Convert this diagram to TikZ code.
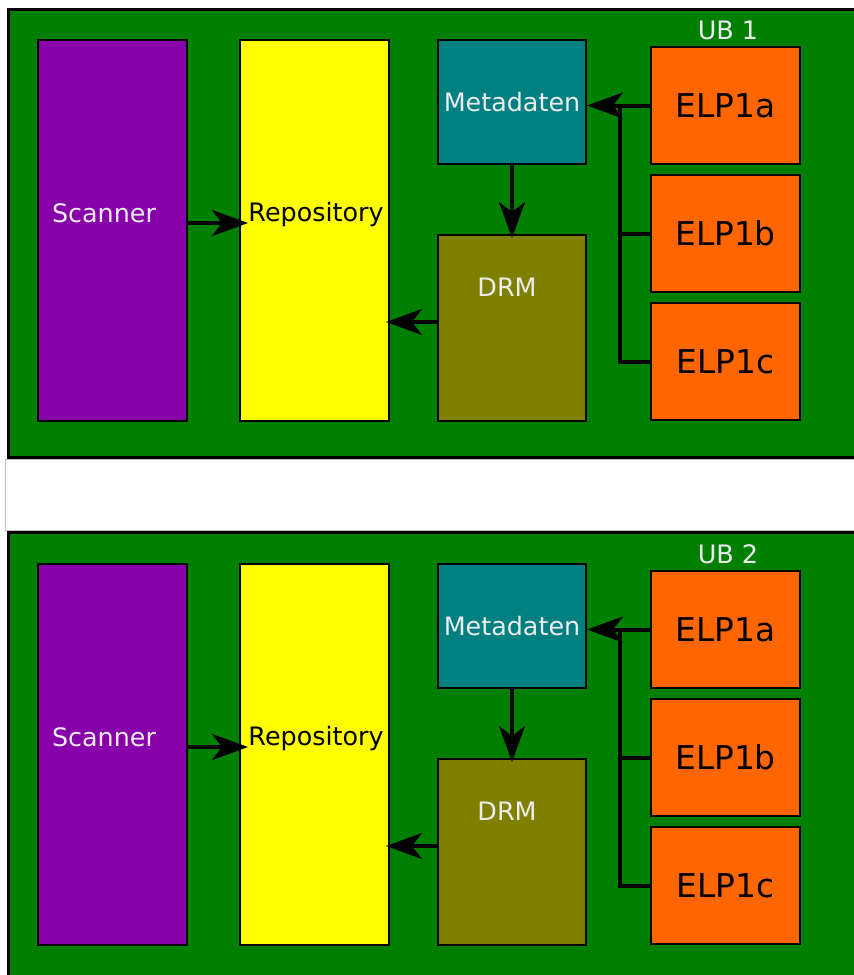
\documentclass[tikz,border=0pt]{standalone}
\usepackage{fontspec}
\setmainfont{DejaVu Sans}
\usetikzlibrary{arrows.meta,calc}

\definecolor{panelgreen}{RGB}{0,128,0}
\definecolor{scanpurple}{RGB}{136,0,170}
\definecolor{repoyellow}{RGB}{255,255,0}
\definecolor{metateal}{RGB}{0,128,128}
\definecolor{drmolive}{RGB}{128,128,0}
\definecolor{elporange}{RGB}{255,102,0}
\definecolor{paletext}{RGB}{236,236,236}

\tikzset{every picture/.style={line width=0.75pt}}
\tikzset{
  panel/.style={draw=black,line width=1.5pt,fill=panelgreen},
  box/.style={draw=black,line width=1pt,inner sep=0pt},
  tall/.style={box,minimum width=74.5pt,minimum height=190.5pt},
  elp/.style={box,fill=elporange,minimum width=74.5pt,minimum height=58.5pt,font=\fontsize{16.4}{20}\selectfont},
  lbl/.style={inner sep=0.75pt,font=\fontsize{12.7}{15}\selectfont},
  conn/.style={line width=2pt},
  arr/.style={conn,-{Stealth[length=18pt,width=13pt,inset=5pt]}}
}

\begin{document}
\begin{tikzpicture}[x=0.5pt,y=0.5pt,yscale=-1,xscale=1]
\useasboundingbox (0,0) rectangle (854,975);
\clip (0,0) rectangle (854,975);

%Shape: Gap [id:gap]
\draw [black!25,line width=0.5pt,fill=white] (5,459) rectangle (880,530);

%%%%%%%%%%%%%%%% UB 1 %%%%%%%%%%%%%%%%
%Shape: Rectangle [id:panel1]
\draw [panel] (8.5,9) rectangle (880,457);
% Text Node
\node [lbl,text=paletext] (ub1) at (728,30) {UB 1};

%Shape: Rectangle [id:scan1]
\node [tall,fill=scanpurple] (scan1) at (112.5,230.5) {};
%Shape: Rectangle [id:repo1]
\node [tall,fill=repoyellow] (repo1) at (314.5,230.5) {};
%Shape: Rectangle [id:meta1]
\node [box,fill=metateal,minimum width=74pt,minimum height=62pt,lbl,text=paletext] (meta1) at (512,102) {Metadaten};
%Shape: Rectangle [id:drm1]
\node [box,fill=drmolive,minimum width=74pt,minimum height=93pt] (drm1) at (512,328) {};
%Shape: Rectangle [id:elpa1]
\node [elp] (elpa1) at (725.5,105.5) {ELP1a};
%Shape: Rectangle [id:elpb1]
\node [elp] (elpb1) at (725.5,233.5) {ELP1b};
%Shape: Rectangle [id:elpc1]
\node [elp] (elpc1) at (725.5,361.5) {ELP1c};

% Text Node
\node [lbl,text=paletext] (scant1) at (104,213) {Scanner};
% Text Node
\node [lbl,text=black] (repot1) at (316,214) {Repository};
% Text Node
\node [lbl,text=paletext] (drmt1) at (507,287) {DRM};

%Straight Lines [id:bus1]
\coordinate (bus1) at (620,106);
\coordinate (scanout1) at ($(scan1.east)+(0,-7.5)$);
\coordinate (drmout1) at ($(drm1.west)+(0,-6)$);
\draw [arr] (scanout1) -- ($(scanout1 -| repo1.west)+(9,0)$);
\draw [arr] (meta1.south) -- ($(drm1.north)+(0,4)$);
\draw [arr] (drmout1) -- ($(drmout1 -| repo1.east)+(-4,0)$);
\draw [arr] (elpa1.west) -- (elpa1.west -| meta1.east);
\draw [conn] (elpc1.west) -| (bus1);
\draw [conn] (elpb1.west) -- (elpb1.west -| bus1);

%%%%%%%%%%%%%%%% UB 2 %%%%%%%%%%%%%%%%
%Shape: Rectangle [id:panel2]
\draw [panel] (8.5,532) rectangle (880,990);
% Text Node
\node [lbl,text=paletext] (ub2) at (728,554) {UB 2};

%Shape: Rectangle [id:scan2]
\node [tall,fill=scanpurple] (scan2) at (112.5,754.5) {};
%Shape: Rectangle [id:repo2]
\node [tall,fill=repoyellow] (repo2) at (314.5,754.5) {};
%Shape: Rectangle [id:meta2]
\node [box,fill=metateal,minimum width=74pt,minimum height=62pt,lbl,text=paletext] (meta2) at (512,626) {Metadaten};
%Shape: Rectangle [id:drm2]
\node [box,fill=drmolive,minimum width=74pt,minimum height=93pt] (drm2) at (512,852) {};
%Shape: Rectangle [id:elpa2]
\node [elp] (elpa2) at (725.5,629.5) {ELP1a};
%Shape: Rectangle [id:elpb2]
\node [elp] (elpb2) at (725.5,757.5) {ELP1b};
%Shape: Rectangle [id:elpc2]
\node [elp] (elpc2) at (725.5,885.5) {ELP1c};

% Text Node
\node [lbl,text=paletext] (scant2) at (104,737) {Scanner};
% Text Node
\node [lbl,text=black] (repot2) at (316,738) {Repository};
% Text Node
\node [lbl,text=paletext] (drmt2) at (507,811) {DRM};

%Straight Lines [id:bus2]
\coordinate (bus2) at (620,630);
\coordinate (scanout2) at ($(scan2.east)+(0,-7.5)$);
\coordinate (drmout2) at ($(drm2.west)+(0,-6)$);
\draw [arr] (scanout2) -- ($(scanout2 -| repo2.west)+(9,0)$);
\draw [arr] (meta2.south) -- ($(drm2.north)+(0,4)$);
\draw [arr] (drmout2) -- ($(drmout2 -| repo2.east)+(-4,0)$);
\draw [arr] (elpa2.west) -- (elpa2.west -| meta2.east);
\draw [conn] (elpc2.west) -| (bus2);
\draw [conn] (elpb2.west) -- (elpb2.west -| bus2);

\end{tikzpicture}
\end{document}
